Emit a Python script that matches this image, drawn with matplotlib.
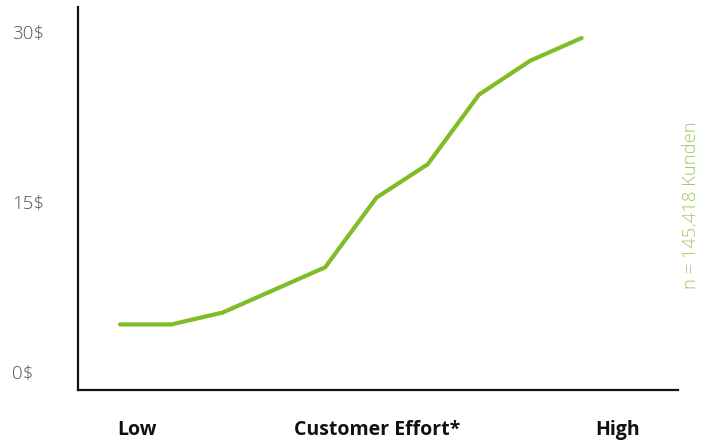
import matplotlib
matplotlib.use("Agg")
import matplotlib.pyplot as plt

effort_steps = list(range(10))
revenue = [4.2, 4.2, 5.25, 7.25, 9.25, 15.4, 18.35, 24.5, 27.5, 29.5]
y_ticks = [0, 15, 30]
y_tick_labels = ["0$", "15$", "30$"]
x_labels = ["Low", "Customer Effort*", "High"]
note = "n = 145.418 Kunden"

plt.rcParams['font.family'] = ['Open Sans', 'DejaVu Sans']

fig = plt.figure(figsize=(7.13, 4.43), dpi=100)
ax = fig.add_axes([78/713, 1 - 390/443, (678-78)/713, (390-7)/443])

ax.plot(effort_steps, revenue, color='#80bc26', lw=3, solid_capstyle='round', solid_joinstyle='miter')

ax.set_xlim(-0.82, 10.88)
ax.set_ylim(-1.59, 32.24)
for s in ['top', 'right']:
    ax.spines[s].set_visible(False)
for s in ['left', 'bottom']:
    ax.spines[s].set_linewidth(1.6)
    ax.spines[s].set_color('#111111')
ax.set_xticks([])
ax.set_yticks(y_ticks)
ax.set_yticklabels(y_tick_labels, fontsize=13.5, color='#555555', fontweight='light')
ax.tick_params(axis='y', length=0, pad=0)
for lab in ax.get_yticklabels():
    lab.set_horizontalalignment('left')
    lab.set_x(-66/600)
    lab.set_transform(ax.get_yaxis_transform())

fig.text(137/713, 1 - 430/443, x_labels[0], ha='center', va='center', fontsize=14, fontweight='bold', color='#111111')
fig.text(377/713, 1 - 430/443, x_labels[1], ha='center', va='center', fontsize=14, fontweight='bold', color='#111111')
fig.text(618/713, 1 - 430/443, x_labels[2], ha='center', va='center', fontsize=14, fontweight='bold', color='#111111')
fig.text(691/713, 1 - 205/443, note, ha='center', va='center', rotation=90, fontsize=13.2, color='#9cca5c', fontweight='light')

fig.savefig('out.png', dpi=100)
